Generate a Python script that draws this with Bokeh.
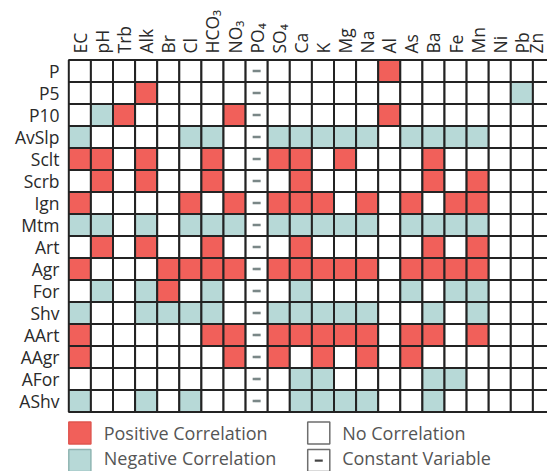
from bokeh.plotting import figure
from bokeh.models import Range1d, FixedTicker, ColumnDataSource
from bokeh.core.properties import value
from bokeh.embed import file_html
from bokeh.resources import INLINE

# ---------------- data ----------------
columns = ["EC", "pH", "Trb", "Alk", "Br", "Cl", "HCO₃", "NO₃", "PO₄", "SO₄",
           "Ca", "K", "Mg", "Na", "Al", "As", "Ba", "Fe", "Mn", "Ni", "Pb", "Zn"]
rows = ["P", "P5", "P10", "AvSlp", "Sclt", "Scrb", "Ign", "Mtm", "Art", "Agr",
        "For", "Shv", "AArt", "AAgr", "AFor", "AShv"]
constant_vars = ["PO₄"]

# 1 = positive, -1 = negative, 0 = no correlation
r_P     = [0, 0, 0, 0, 0, 0, 0, 0, 0, 0, 0, 0, 0, 0, 1, 0, 0, 0, 0, 0, 0, 0]
r_P5    = [0, 0, 0, 1, 0, 0, 0, 0, 0, 0, 0, 0, 0, 0, 0, 0, 0, 0, 0, 0, -1, 0]
r_P10   = [0, -1, 1, 0, 0, 0, 0, 1, 0, 0, 0, 0, 0, 0, 1, 0, 0, 0, 0, 0, 0, 0]
r_AvSlp = [-1, 0, 0, 0, 0, -1, -1, 0, 0, -1, -1, -1, -1, -1, 0, -1, -1, -1, -1, 0, 0, 0]
r_Sclt  = [1, 1, 0, 1, 0, 0, 1, 0, 0, 1, 1, 0, 1, 0, 0, 0, 1, 0, 0, 0, 0, 0]
r_Scrb  = [0, 1, 0, 1, 0, 0, 1, 0, 0, 0, 1, 0, 0, 0, 0, 0, 1, 0, 1, 0, 0, 0]
r_Ign   = [1, 0, 0, 0, 0, 1, 0, 1, 0, 1, 1, 1, 0, 1, 0, 1, 0, 1, 1, 0, 0, 0]
r_Mtm   = [-1, -1, 0, -1, 0, -1, -1, -1, 0, -1, -1, -1, -1, -1, 0, -1, -1, -1, -1, 0, 0, 0]
r_Art   = [0, 1, 0, 1, 0, 0, 1, 0, 0, 0, 1, 0, 0, 0, 0, 0, 1, 0, 1, 0, 0, 0]
r_Agr   = [1, 0, 0, 0, 1, 1, 1, 1, 0, 1, 1, 1, 1, 1, 0, 1, 1, 1, 1, 0, 0, 0]
r_For   = [0, -1, 0, -1, 1, 0, -1, 0, 0, 0, -1, 0, 0, 0, 0, -1, 0, -1, -1, 0, 0, 0]
r_Shv   = [-1, 0, 0, -1, -1, -1, -1, 0, 0, -1, -1, -1, -1, -1, 0, 0, -1, 0, -1, 0, 0, 0]
r_AArt  = [1, 0, 0, 0, 0, 0, 1, 1, 0, 1, 1, 1, 1, 1, 0, 1, 1, 0, 1, 0, 0, 0]
r_AAgr  = [1, 0, 0, 0, 0, 0, 0, 1, 0, 1, 0, 1, 0, 1, 0, 1, 0, 0, 0, 0, 0, 0]
r_AFor  = [0, 0, 0, 0, 0, 0, 0, 0, 0, 0, -1, -1, 0, 0, 0, 0, -1, -1, 0, 0, 0, 0]
r_AShv  = [-1, 0, 0, -1, 0, -1, 0, 0, 0, 0, -1, -1, -1, -1, 0, 0, -1, 0, 0, 0, 0, 0]

matrix = [r_P, r_P5, r_P10, r_AvSlp, r_Sclt, r_Scrb, r_Ign, r_Mtm, r_Art, r_Agr,
          r_For, r_Shv, r_AArt, r_AAgr, r_AFor, r_AShv]

legend_labels = ["Positive Correlation", "Negative Correlation",
                 "No Correlation", "Constant Variable"]

# ---------------- style ----------------
RED = "#F1605A"
GREEN = "#B7D9D7"
WHITE = "#FFFFFF"
EDGE = "#232323"
DASH = "#7A8787"
FONT = "Open Sans"
colour_of = {1: RED, -1: GREEN, 0: WHITE}

W, H = 547, 471
LEFT, TOP = 66, 57
CW, CH = 22.1, 22.0
PADX, PADY = 2.3, 2.5

x0 = -0.5 - PADX / CW
x1 = x0 + (W - LEFT) / CW
y0 = -0.5 - PADY / CH
y1 = y0 + (H - TOP) / CH

p = figure(width=W, height=H, output_backend="svg", toolbar_location=None,
           x_axis_location="above",
           x_range=Range1d(x0, x1), y_range=Range1d(y1, y0),
           min_border_left=LEFT, min_border_top=TOP,
           min_border_right=0, min_border_bottom=0)
p.outline_line_color = None
p.xgrid.visible = False
p.ygrid.visible = False
p.background_fill_color = "white"
p.border_fill_color = "white"

# cells
xs, ys, fills = [], [], []
for r, rowvals in enumerate(matrix):
    for c, v in enumerate(rowvals):
        xs.append(c)
        ys.append(r)
        fills.append(colour_of[v])
src = ColumnDataSource(dict(x=xs, y=ys, fill=fills))
p.rect(x="x", y="y", width=1, height=1, source=src, fill_color="fill",
       line_color=EDGE, line_width=2)

# constant-variable dashes
dx, dy = [], []
for name in constant_vars:
    c = columns.index(name)
    for r in range(len(rows)):
        dx.append(c)
        dy.append(r)
p.rect(x=dx, y=dy, width=8, height=2.6, width_units="screen", height_units="screen",
       fill_color=DASH, line_color=None)

# axes
for ax, labels, orient, standoff in ((p.xaxis, columns, "vertical", 4),
                                    (p.yaxis, rows, "horizontal", 7)):
    ax.ticker = FixedTicker(ticks=list(range(len(labels))))
    ax.major_label_overrides = {i: s for i, s in enumerate(labels)}
    ax.major_label_orientation = orient
    ax.axis_line_color = None
    ax.major_tick_line_color = None
    ax.minor_tick_line_color = None
    ax.major_tick_out = 0
    ax.major_tick_in = 0
    ax.major_label_standoff = standoff
    ax.major_label_text_font = FONT
    ax.major_label_text_font_size = "17.5px"
    ax.major_label_text_color = "#2a2a2a"

# legend (drawn below the grid)
n = len(rows)
leg_y = [n + 0.45, n + 1.71]
txt_y = [n + 0.45, n + 1.58]
leg_xbox = [0, 10.81]
leg_xtxt = [1.08, 11.87]
box_fill = [RED, GREEN, WHITE, WHITE]
box_line = ["#E0554F", "#8FB5B2", "#6E6E6E", "#6E6E6E"]
bx, by, tx, ty = [], [], [], []
for k in range(4):
    col, row = divmod(k, 2)
    bx.append(leg_xbox[col]); by.append(leg_y[row])
    tx.append(leg_xtxt[col]); ty.append(txt_y[row])
p.rect(x=bx, y=by, width=1, height=1, fill_color=box_fill, line_color=box_line,
       line_width=1.5)
p.rect(x=[bx[3]], y=[by[3]], width=8, height=2.2, width_units="screen",
       height_units="screen", fill_color="#444444", line_color=None)
p.text(x=tx, y=ty, text=legend_labels, text_font=value(FONT),
       text_font_size="18px", text_color="#555555",
       text_baseline="middle", text_align="left")

open("out.html", "w").write(file_html(p, INLINE))
